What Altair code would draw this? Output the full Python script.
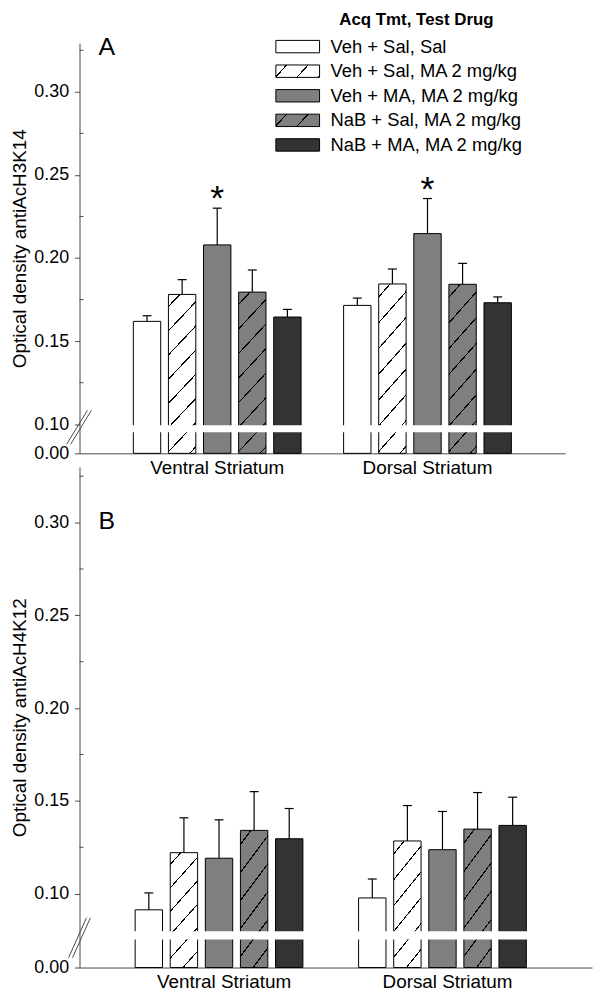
import math
import altair as alt
import pandas as pd

# ---------------- data ----------------
regions = ["Ventral Striatum", "Dorsal Striatum"]
series = ["Veh + Sal, Sal", "Veh + Sal, MA 2 mg/kg", "Veh + MA, MA 2 mg/kg",
          "NaB + Sal, MA 2 mg/kg", "NaB + MA, MA 2 mg/kg"]
fills = ["#ffffff", "#ffffff", "#7f7f7f", "#7f7f7f", "#333333"]
hatched = [False, True, False, True, False]
legend_title = "Acq Tmt, Test Drug"

a_ventral = [0.1619, 0.1781, 0.2079, 0.1795, 0.1645]
a_dorsal = [0.1715, 0.1844, 0.2147, 0.1842, 0.1731]
a_ventral_se = [0.0034, 0.0089, 0.0221, 0.0133, 0.0046]
a_dorsal_se = [0.0044, 0.0090, 0.0211, 0.0126, 0.0035]
a_ventral_sig = ["", "", "*", "", ""]
a_dorsal_sig = ["", "", "*", "", ""]

b_ventral = [0.0913, 0.1221, 0.1191, 0.1341, 0.1296]
b_dorsal = [0.0977, 0.1284, 0.1237, 0.1348, 0.1368]
b_ventral_se = [0.0091, 0.0188, 0.0207, 0.0209, 0.0163]
b_dorsal_se = [0.0102, 0.0191, 0.0206, 0.0197, 0.0152]
b_ventral_sig = ["", "", "", "", ""]
b_dorsal_sig = ["", "", "", "", ""]

y_tick_values = [0.10, 0.15, 0.20, 0.25, 0.30]
y_minor_ticks = [0.125, 0.175, 0.225, 0.275, 0.325]

FONT = "Liberation Sans"
AXIS_GRAY = "#4a4a4a"


def make_df(vent, dors, vent_se, dors_se, vent_sig, dors_sig):
    rows = []
    for reg, vals, ses, sigs in [(regions[0], vent, vent_se, vent_sig),
                                 (regions[1], dors, dors_se, dors_sig)]:
        for s, v, e, g, h in zip(series, vals, ses, sigs, hatched):
            rows.append({"region": reg, "series": s, "value": v, "se": e,
                         "sig": g, "hatched": h})
    return pd.DataFrame(rows)


def hatch_gradient(w, h, slope, period, lw, phase=0.5):
    gx = slope * w / h
    tmax = (gx + 1) / (gx * gx + 1)
    d = (w * slope + h) / math.sqrt(1 + slope * slope)
    n = d / period
    hw = lw / 2.0 / d
    clear = "rgba(0,0,0,0)"
    ink = "#000000"
    stops = [{"offset": 0, "color": clear}]
    k = 0
    while True:
        c = (k + phase) / n
        if c + hw >= 1:
            break
        stops += [{"offset": round(c - hw, 5), "color": clear},
                  {"offset": round(c - hw, 5), "color": ink},
                  {"offset": round(c + hw, 5), "color": ink},
                  {"offset": round(c + hw, 5), "color": clear}]
        k += 1
    stops.append({"offset": 1, "color": clear})
    return {"gradient": "linear", "x1": 0, "y1": 0,
            "x2": round(gx * tmax, 5), "y2": round(tmax, 5), "stops": stops}


def make_panel(df, cfg, with_legend=False):
    W, H = cfg["width"], cfg["height"]
    zero = cfg["zero"]
    yscale = alt.Scale(domain=[zero, cfg["top"]], zero=False, nice=False)
    yaxis = alt.Axis(values=[zero] + y_tick_values,
                     labelExpr="datum.value < 0.099 ? '0.00' : format(datum.value, '.2f')",
                     tickSize=5, labelPadding=6, titlePadding=cfg["title_pad"],
                     grid=False, labelFlush=False, labelFontSize=18,
                     titleFontSize=19, titleFontWeight="normal",
                     domainColor=AXIS_GRAY, tickColor=AXIS_GRAY,
                     labelColor="black", titleColor="black",
                     labelFont=FONT, titleFont=FONT)

    def yenc(field):
        return alt.Y(field, title=cfg["ytitle"], scale=yscale, axis=yaxis)

    xenc = alt.X("region:N", sort=regions, title=None,
                 scale=alt.Scale(domain=regions, paddingInner=cfg["pi"],
                                 paddingOuter=cfg["po"]),
                 axis=alt.Axis(labelAngle=0, ticks=False, labelPadding=5,
                               labelFontSize=19, labelColor="black",
                               domainColor=AXIS_GRAY, labelFont=FONT))
    xoff = alt.XOffset("series:N", sort=series,
                       scale=alt.Scale(domain=series, paddingInner=cfg["opi"],
                                       paddingOuter=0))

    base = alt.Chart(df).encode(x=xenc, xOffset=xoff)

    bars = base.mark_bar(stroke="black", strokeWidth=1).encode(
        y=yenc("value:Q"), y2=alt.datum(zero),
        fill=alt.Fill("series:N", scale=alt.Scale(domain=series, range=fills),
                      legend=None))
    hatch = base.transform_filter("datum.hatched").mark_bar(
        fill=cfg["grad"], strokeWidth=0).encode(
        y=yenc("value:Q"), y2=alt.datum(zero))
    err = base.transform_calculate(top="datum.value + datum.se").mark_rule(
        color="black", strokeWidth=1.2).encode(y=yenc("value:Q"), y2="top:Q")
    caps = base.transform_calculate(top="datum.value + datum.se").mark_tick(
        orient="horizontal", size=9, thickness=1.2, color="black",
        opacity=1).encode(y=yenc("top:Q"))
    stars = base.transform_calculate(top="datum.value + datum.se").transform_filter(
        "datum.sig != ''").mark_text(fontSize=36, baseline="alphabetic", dy=2,
                                    font=FONT, color="black").encode(
        y=yenc("top:Q"), text="sig:N")

    minor = alt.Chart(pd.DataFrame({"v": y_minor_ticks})).mark_rule(
        color=AXIS_GRAY, strokeWidth=1).encode(
        y=yenc("v:Q"), x=alt.value(0), x2=alt.value(4))

    gap = alt.Chart(pd.DataFrame({"lo": [cfg["gap"][0]], "hi": [cfg["gap"][1]]})).mark_rect(
        color="white").encode(y=yenc("lo:Q"), y2="hi:Q",
                              x=alt.value(20), x2=alt.value(W - 10))

    slash_df = pd.DataFrame({"lo": [cfg["slash"][0]], "hi": [cfg["slash"][1]]})
    slash1 = alt.Chart(slash_df).mark_rule(color=AXIS_GRAY, strokeWidth=1).encode(
        y=yenc("lo:Q"), y2="hi:Q",
        x=alt.value(cfg["slash_x"][0]), x2=alt.value(cfg["slash_x"][1]))
    slash2 = alt.Chart(slash_df).mark_rule(color=AXIS_GRAY, strokeWidth=1).encode(
        y=yenc("lo:Q"), y2="hi:Q",
        x=alt.value(cfg["slash_x"][0] + 4), x2=alt.value(cfg["slash_x"][1] + 4))

    letter = alt.Chart(pd.DataFrame({"t": [cfg["letter"]]})).mark_text(
        fontSize=25, align="left", baseline="middle", font=FONT,
        color="black").encode(text="t:N", x=alt.value(19),
                              y=alt.value(cfg["letter_y"]))

    main = alt.layer(bars, hatch, err, caps, stars, minor, gap, slash1, slash2,
                     letter)

    if not with_legend:
        return main.properties(width=W, height=H)

    ldf = pd.DataFrame({"series": series, "hatched": hatched})
    ly = alt.Y("series:N", sort=series,
               scale=alt.Scale(type="point", domain=series, range=[3.5, 102.5],
                               padding=0), axis=None)
    shape = "M-1,-0.284L1,-0.284L1,0.284L-1,0.284Z"
    sw = alt.Chart(ldf).mark_point(shape=shape, size=1936, filled=True,
                                   stroke="black", strokeWidth=1,
                                   opacity=1).encode(
        x=alt.value(219.7), y=ly,
        fill=alt.Fill("series:N", scale=alt.Scale(domain=series, range=fills),
                      legend=None))
    sw_h = alt.Chart(ldf).transform_filter("datum.hatched").mark_point(
        shape=shape, size=1936, filled=True, fill=cfg["lgrad"], strokeWidth=0,
        opacity=1).encode(x=alt.value(219.7), y=ly)
    ltxt = alt.Chart(ldf).mark_text(align="left", baseline="middle",
                                    fontSize=18.5, font=FONT,
                                    color="black").encode(
        x=alt.value(252.7), y=ly, text="series:N")
    ltitle = alt.Chart(pd.DataFrame({"t": [legend_title]})).mark_text(
        fontSize=17, fontWeight="bold", align="center", baseline="middle",
        font=FONT, color="black").encode(
        text="t:N", x=alt.value(339.2), y=alt.value(-23))
    legend = alt.layer(sw, sw_h, ltxt, ltitle)

    return alt.layer(main, legend).resolve_scale(y="independent").properties(
        width=W, height=H)


cfg_a = dict(width=489, height=413, zero=0.0825, top=0.3293,
             gap=(0.0952, 0.0994), slash=(0.0879, 0.1084), slash_x=(-13, 8),
             ytitle="Optical density antiAcH3K14", letter="A", letter_y=4,
             pi=0.2023, po=0.256, opi=0.22, title_pad=4,
             grad=hatch_gradient(27.6, 166, 1.1, 17.0, 1.1),
             lgrad=hatch_gradient(44, 12.5, 1.1, 16.0, 1.1))
cfg_b = dict(width=516, height=504, zero=0.0602, top=0.33,
             gap=(0.0753, 0.0798), slash=(0.0655, 0.087), slash_x=(-11, 7),
             ytitle="Optical density antiAcH4K12", letter="B", letter_y=54,
             pi=0.2044, po=0.249, opi=0.23, title_pad=4,
             grad=hatch_gradient(28.9, 130, 1.2, 17.0, 1.1))

df_a = make_df(a_ventral, a_dorsal, a_ventral_se, a_dorsal_se,
               a_ventral_sig, a_dorsal_sig)
df_b = make_df(b_ventral, b_dorsal, b_ventral_se, b_dorsal_se,
               b_ventral_sig, b_dorsal_sig)

panel_a = make_panel(df_a, cfg_a, with_legend=True)
panel_b = make_panel(df_b, cfg_b)

chart = alt.vconcat(panel_a, panel_b, spacing=13.7, bounds="flush").configure(
    font=FONT).configure_view(stroke=None).properties(
    padding={"left": 2, "top": 0, "right": 2, "bottom": 0})

chart.save("out.html", embed_options={"renderer": "svg", "actions": False})
